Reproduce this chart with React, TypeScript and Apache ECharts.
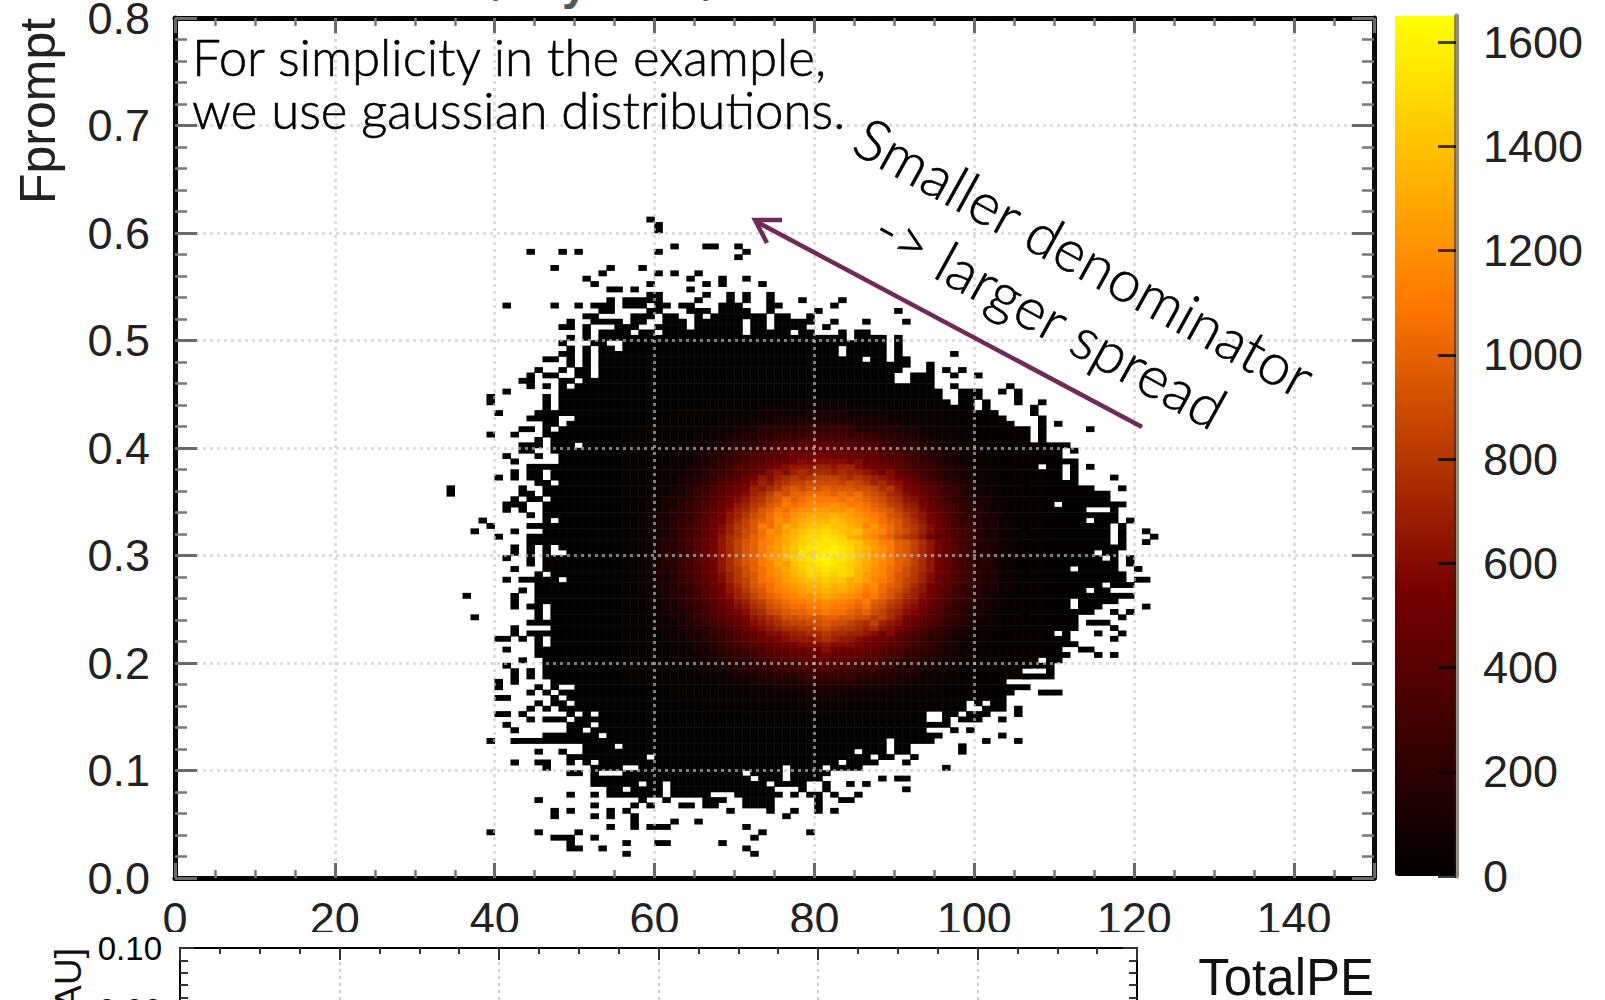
import React, { useEffect, useRef } from "react";
import * as echarts from "echarts";

// ---- axis ticks
const X_MAX = 150;
const Y_MAX = 0.8;
const Z_MAX = 1650;
const LOWER_X_MAX = 120;
const LOWER_Y_MAX = 0.1;
const COLOR_STOPS = ["#000000", "#780000", "#ff7800", "#ffff00"];
const Z_TICKS = [0, 200, 400, 600, 800, 1000, 1200, 1400, 1600];

// ---- occupied bins: index = Fprompt bin (0.005 wide), entries = TotalPE bins (1 wide)
const OCCUPIED_ROWS = [
  "", "", "", "",
  "56,72",
  "49-50,53,71",
  "49,56,60-61,68",
  "47-49,52,72",
  "39,45,50,73,79",
  "54,57,59-61,71",
  "57,62,65",
  "47,52,54,57,76",
  "47,49,54,56,69,74,77,80,82",
  "52,57,59,63-64,66-67,71-74,80",
  "45,58,61,66-68,71-74,80,83-84",
  "49,52,54-60,62-66,70-75,77,79-80,82,85",
  "54-55,57-60,62-74,78,81,91",
  "52-57,59-60,62-73,75-78,81,84,86",
  "52-71,73-75,77-80,88,90-91",
  "49-50,52,56-70,72-75,77-81",
  "46,52-55,58-75,77-80,82-85,96",
  "42,45-46,49,51,53-82,84-87,91",
  "49-58,60-86,88-89,92",
  "45,48,51-84,86-88,90-91,98",
  "51-54,56-88,90-91,98",
  "39,42-88,90-94,101,105",
  "46-52,54-95,103",
  "42,49-50,52-93,97,99",
  "41,49-51,53-96",
  "44,46-48,50-93,96,98-100,103",
  "40-41,43,49,51,53-93,96-97,99-101,105",
  "44,46,48-98,101-103,105",
  "45,47-48,50-98,100,102-103",
  "40-41,47,49-103",
  "44,46,48-104,108-110",
  "40,45,47,50-106",
  "40,42,47-103",
  "42,44,46-109",
  "42,44,46-105,109",
  "41,46-109",
  "43,46-107,109-110",
  "45-111,115,117",
  "41,45-110,113-114",
  "45,47-112",
  "40-41,43,45,47-111,117",
  "42,44-109,111,115,118",
  "42,47-112,117",
  "44-112,114-116",
  "37,45,47-112,118",
  "45,47-114,117,119",
  "42,44-45,47-111,113-115,121",
  "42,45-111,113-117",
  "36,42,45-119",
  "43,45-113,115-116",
  "45-115,117-119",
  "41,43-47,49-118,120-121",
  "45,47-118",
  "42,46-111,113-117,120",
  "44,46-117,119",
  "41,44,46-115,117,119",
  "42,44,46,49-114,116-117",
  "42,44,46,48-118",
  "44-116,118,121",
  "40,44-116,118,122",
  "37,42,46-116,118,121",
  "39,44-116,118",
  "38,46,48-113,115-117,119",
  "44,46-117",
  "41,43,46-113,117",
  "41-43,46-109,111-118",
  "42,44-45,47-116",
  "34,43-44,46-116",
  "34,43,46-114,118",
  "45-46,48-112",
  "40,42,44-45,47-110,112,117",
  "42,44-45,47-110,112",
  "44-107,109-110,112,114",
  "42,48-112",
  "41,45,48-110",
  "43-44,47-110,112",
  "43-45,47-49,51-111",
  "45,47-106,108",
  "39,42,46-106,108",
  "43-44,46,48-106,108,114",
  "46-47,49-104,108,110",
  "44-47,50-103,108",
  "40,45-102,107",
  "46,48-99,101,107",
  "39,46,48-96,98-99,101,105,108",
  "39,46,48-95,98-100,105",
  "41,48-95,98-100,103,105",
  "44,46,48,50-94,97,104",
  "43-44,48-49,51-89,92-94",
  "44,46-47,50-51,53-89,92-94,97,100",
  "45,48,50-51,53-90,94,96,98",
  "49,51,53-91,94",
  "46-47,49,51,53-85,87-88,90-91",
  "48-49,51,53-82,84-88,90,97",
  "49,51,53-54,56-82,84-88,90",
  "48,52-53,56-88,90",
  "49,51,53-83,85-88,90",
  "51,53-56,58-59,61-70,72-76,78-79,83,85-86",
  "48-49,51,55-57,60-63,65-70,72-73,75-78,81",
  "49,52-55,57-58,61-63,65-70,72-73,75-79,82,86,91",
  "51-52,57-59,61-62,65,67-73,75-76,79",
  "53-54,59-60,64-66,68-71,74,80,90",
  "41,47,50,52-54,56-58,60-61,63-64,68-70,74-75,82",
  "54,56-60,65,69,71,74,78,83",
  "59-60,66,69,71,74",
  "54-55,57,64",
  "52,59,66,68,73",
  "51,64,68,71",
  "53,60,62,65",
  "47,54,58",
  "",
  "70",
  "44,48,50,60,71",
  "62,66-67,70",
  "", "",
  "60",
  "60",
  "59",
];

// ---- counts in the bright core, as level digits (base 36), Fprompt bins 88 down to 30, TotalPE bins 56..108
const CORE_TOP_ROW = 88;
const CORE_LEFT_COL = 56;
const COUNT_UNIT = 50;
const LOW_COUNTS = [15, 30, 70, 120, 180];
const FAINT_COUNT = 15;
const CORE_ROWS = [
  "0000000000111111111111222 2221111111111100000000000000",
  "0000000111111111122222222 2222222211111111110000000000",
  "0000001111111111222222233 3332222222111111111100000000",
  "0000111111111222222333333 3333333322222211111111100000",
  "0011111111112222333333444 4444333333222211111111110000",
  "0111111111222233344444555 5555444443332222111111111000",
  "1111111112222334444555566 6665555444433222211111111100",
  "1111111112223344455666777 7777666554443322211111111110",
  "1111111122233444556777888 8888777655444332221111111111",
  "1111111222334455677889999 9999988776554433222111111111",
  "111111222334455677989aaab baaa999877655443322211111111",
  "1111112223345567889aabcbc cccbcaa988765543322211111111",
  "11111222334456879aabcddde edeecbaa98766544332221111111",
  "11111222334556789acdcefef fefeedcac9876554332221111111",
  "111122233445678abdcefgfgh hhgfgfedcba87654433222111111",
  "111122234456789acedfghhii iihihgefdca98765443222111111",
  "11112233455789abedfgijijj kjjjiihfgdba9875543322111111",
  "1111223345678abcefhjikkll lklkljihfecba876543322111111",
  "1112233445689acdfgijlklmm mmlmlkjigfdca986544332211111",
  "111223345678abdeghjkmlmnn nonmmlkjhgedba87654332211111",
  "111223445679acefhjkmlnoop poopnmlkjhfeca97654432211111",
  "112233445689bdegijlnmopqq qrqponmljigedb98654433221111",
  "11223345578abdfhjklonpqrr rsrqponlkjhfdba8755433221111",
  "11223345678aceghjmlnqprss tssrqnpmljhgeca8765433221111",
  "11223345679acegijlonprstt utsrsponljigeca9765433221111",
  "11223345679adfgiklnoqrtuu vutrqonlkigfda99765433221111",
  "11223445689bdfhjkmnpqstuv vvutsqpnmkjhfdb986544322 1111",
  "11223445689bdfhjkmoprsuvv vwvusrpomkjhfdb986544322 1111",
  "11223445689bdfhjkmoprsvuv wwvusrpomkjhfdb986544322 1111",
  "11223445689bdfhjkmoprtuvw wvvusrpomkjhfdb986544322 1111",
  "11223445689bdfhjkmnqpstuv wvutsqpnmkjhfdb986544322 1111",
  "11223345679adfgiklnoqrtuu vuutrqonlkigfda9765433221111",
  "11223345679acegijlnoprsut ututrponljigeca9765433221111",
  "11223345678aceghjlmnpqrss tssqrpnmljhgeca8765433221111",
  "11223345578abdfhjklnopqrr srrqpnolkjhfdba8755433221111",
  "112233445689bdegijlmnopqq rqqpomnljigedb98654433221111",
  "111223445679acefhjklmnoop qpoonlmkjhfeca97654432211111",
  "111223345678abdeghjklmmnn onnmlmkjhgedba87654332211111",
  "1112233445689acdfgijkllmm nmmlkljigfdca986544332211111",
  "1111223345678abcefhijkkll mllkjkihfecba876543322111111",
  "11112233455789abdefgiijjj kkjjiighfdba9875543322111111",
  "111122234456789acdefghhii jiihgfhedca98765443222111111",
  "111122233445678abcdeffggh ihggfefdcba87654433222111111",
  "11111222334556789accdeeff gffeedcac9876554332221111111",
  "11111222334456789aabcddde feddcbaa98765443322211111111",
  "1111112223345567889aabccc dcccbaa988765543322211111111",
  "111111222334455677899aaab cbaaa99877655443322211111111",
  "1111111222334455677889999 a999988776554433222111111111",
  "1111111122233444556777888 9888777655444332221111111111",
  "1111111112223344455666777 8777666554443322211111111110",
  "1111111112222334444555566 6665555444433222211111111100",
  "0111111111222233344444555 5555444443332222111111111000",
  "0011111111112222333333444 4444333333222211111111110000",
  "0000111111111222222333333 3333333322222211111111100000",
  "0000001111111111222222233 3332222222111111111100000000",
  "0000000111111111122222222 2222222211111111110000000000",
  "0000000000111111111111222 2221111111111100000000000000",
  "0000000000011111111111111 2111111111111000000000000000",
  "0000000000000001111111111 1111111111100000000000000000",
];

const parseOccupied = (text: string): number[] =>
  text === ""
    ? []
    : text.split(",").flatMap((part) => {
        const [from, to] = part.split("-").map(Number);
        const cols: number[] = [];
        for (let c = from; c <= (to ?? from); c++) cols.push(c);
        return cols;
      });

const coreCount = (col: number, row: number): number => {
  const line = CORE_ROWS[CORE_TOP_ROW - row];
  if (!line) return FAINT_COUNT;
  const ch = line.replace(/ /g, "")[col - CORE_LEFT_COL];
  if (!ch) return FAINT_COUNT;
  const level = parseInt(ch, 36);
  return level < LOW_COUNTS.length ? LOW_COUNTS[level] : level * COUNT_UNIT;
};

const heatData: number[][] = [];
OCCUPIED_ROWS.forEach((text, row) => {
  parseOccupied(text).forEach((col) => heatData.push([col, row, coreCount(col, row)]));
});

const xBins = Array.from({ length: X_MAX }, (_, i) => i);
const yBins = Array.from({ length: 160 }, (_, i) => i);

const SANS = "Liberation Sans";
const TITLE = "Lato";

// plot rectangles
const MAIN = { left: 175, top: 18, width: 1199, height: 860, outerBoundsMode: "none" };
const BAR = { left: 1395, top: 16, width: 61, height: 860, outerBoundsMode: "none" };
const LOWER = { left: 180, top: 948, width: 957, height: 310, outerBoundsMode: "none" };

const dotted = { show: true, lineStyle: { color: "rgba(200,200,200,0.62)", width: 3, type: [3, 4] } };

const mainTick = (len: number) => ({ show: true, inside: true, length: len, lineStyle: { color: "#6a6a6a", width: 3 } });
const mainMinor = (len: number, split: number) => ({ show: true, splitNumber: split, length: len, lineStyle: { color: "#777", width: 2.5 } });
const frameDash = { show: true, onZero: false, lineStyle: { color: "#000", width: 5, type: [6, 1.5] } };
const frameSolid = { show: true, onZero: false, lineStyle: { color: "#0c0c0c", width: 5 } };
const labelStyle = { color: "#222", fontFamily: SANS, fontSize: 45 };

const thin = { show: true, onZero: false, lineStyle: { color: "#000", width: 2 } };
const lowerTick = (len: number) => ({ show: true, inside: true, length: len, lineStyle: { color: "#333", width: 2 } });
const lowerMinor = (len: number, split: number) => ({ show: true, splitNumber: split, length: len, lineStyle: { color: "#333", width: 2 } });

export default function App() {
  const ref = useRef<HTMLDivElement>(null);
  useEffect(() => {
    const chart = echarts.init(ref.current!, undefined, { renderer: "svg" });
    const textEl = (text: string, x: number, y: number, font: string, extra: any = {}, rotation = 0) => ({
      type: "text",
      x,
      y,
      rotation,
      z: 50,
      silent: true,
      style: {
        text,
        font,
        fill: extra.fill ?? "#111",
        stroke: extra.stroke,
        lineWidth: extra.lineWidth,
        textAlign: extra.align ?? "left",
        align: extra.align ?? "left",
        textVerticalAlign: extra.valign ?? "middle",
        verticalAlign: extra.valign ?? "middle",
      },
    });
    const heavier = { fill: "#000", stroke: "#000", lineWidth: 0.6 };
    chart.setOption({
      animation: false,
      backgroundColor: "#fff",
      grid: [
        { ...MAIN },
        { ...MAIN },
        { ...BAR },
        { ...LOWER },
      ],
      xAxis: [
        { gridIndex: 0, type: "category", data: xBins, show: false },
        {
          gridIndex: 1, type: "value", position: "bottom", min: 0, max: X_MAX, interval: 20, z: 5,
          axisLine: frameDash, axisTick: mainTick(15), minorTick: mainMinor(8, 4), splitLine: dotted,
          axisLabel: { ...labelStyle, margin: 18, showMaxLabel: false },
        },
        {
          gridIndex: 1, type: "value", position: "top", min: 0, max: X_MAX, interval: 20, z: 5,
          axisLine: frameDash, axisTick: mainTick(15), minorTick: mainMinor(8, 4), splitLine: { show: false },
          axisLabel: { show: false },
        },
        { gridIndex: 2, type: "value", min: 0, max: 1, show: false },
        {
          gridIndex: 3, type: "value", position: "top", min: 0, max: LOWER_X_MAX, interval: 20, z: 20,
          axisLine: thin, axisTick: lowerTick(12), minorTick: lowerMinor(6, 4),
          splitLine: { show: true, lineStyle: { color: "#ccc", width: 2, type: [3, 4] } },
          axisLabel: { show: false },
        },
      ],
      yAxis: [
        { gridIndex: 0, type: "category", data: yBins, show: false },
        {
          gridIndex: 1, type: "value", position: "left", min: 0, max: Y_MAX, interval: 0.1, z: 5,
          axisLine: frameSolid, axisTick: mainTick(22), minorTick: mainMinor(12, 5), splitLine: dotted,
          axisLabel: { ...labelStyle, margin: 25, formatter: (v: number) => v.toFixed(1) },
        },
        {
          gridIndex: 1, type: "value", position: "right", min: 0, max: Y_MAX, interval: 0.1, z: 5,
          axisLine: frameSolid, axisTick: mainTick(22), minorTick: mainMinor(12, 5), splitLine: { show: false },
          axisLabel: { show: false },
        },
        {
          gridIndex: 2, type: "value", position: "right", min: 0, max: Z_MAX, interval: 200, z: 6,
          axisLine: { show: true, onZero: false, lineStyle: { color: "rgba(40,30,0,0.5)", width: 5 } },
          axisTick: { show: true, inside: true, length: 18, customValues: Z_TICKS, lineStyle: { color: "rgba(0,0,0,0.75)", width: 3 } },
          splitLine: { show: false },
          axisLabel: { ...labelStyle, margin: 27, customValues: Z_TICKS, formatter: (v: number) => String(v) },
        },
        {
          gridIndex: 3, type: "value", position: "left", min: 0, max: LOWER_Y_MAX, interval: 0.02, z: 20,
          axisLine: thin, axisTick: lowerTick(14), minorTick: lowerMinor(8, 5),
          splitLine: { show: true, lineStyle: { color: "#ccc", width: 2, type: [3, 4] } },
          axisLabel: { color: "#000", fontFamily: SANS, fontSize: 33, margin: 18, formatter: (v: number) => v.toFixed(2) },
        },
        {
          gridIndex: 3, type: "value", position: "right", min: 0, max: LOWER_Y_MAX, interval: 0.02, z: 20,
          axisLine: thin, axisTick: lowerTick(14), minorTick: lowerMinor(8, 5), splitLine: { show: false },
          axisLabel: { show: false },
        },
      ],
      visualMap: {
        type: "continuous",
        seriesIndex: 0,
        dimension: 2,
        min: 0,
        max: Z_MAX,
        show: true,
        calculable: false,
        realtime: false,
        left: BAR.left,
        top: BAR.top,
        padding: 0,
        itemWidth: BAR.width,
        itemHeight: BAR.height,
        text: ["", ""],
        hoverLink: false,
        inRange: { color: COLOR_STOPS },
      },
      series: [
        {
          type: "heatmap",
          xAxisIndex: 0,
          yAxisIndex: 0,
          data: heatData,
          progressive: 0,
          silent: true,
          z: 2,
          itemStyle: { borderWidth: 0 },
          emphasis: { disabled: true },
        },
      ],
      graphic: [
        { type: "rect", z: 10, silent: true, shape: { x: 0, y: 932, width: 1605, height: 100 }, style: { fill: "#fff" } },
        textEl("Fprompt", 38, 111, `50px "${SANS}"`, { fill: "#222", align: "center" }, Math.PI / 2),
        textEl("TotalPE", 1374, 977, `51px "${SANS}"`, { fill: "#111", align: "right" }),
        textEl("[AU]", 68, 948, `37px "${SANS}"`, { fill: "#111", align: "right" }, Math.PI / 2),
        textEl("For simplicity in the example,", 192, 56, `300 51px "${TITLE}"`, heavier),
        textEl("we use gaussian distributions.", 192, 109, `300 51px "${TITLE}"`, heavier),
        textEl("Smaller denominator", 1085, 256, `300 58px "${TITLE}"`, { ...heavier, align: "center" }, -0.505),
        textEl("-> larger spread", 1051, 317, `300 58px "${TITLE}"`, { ...heavier, align: "center" }, -0.505),
        textEl(",", 490, 1, `bold 46px "${SANS}"`, { fill: "#555", valign: "bottom" }),
        textEl("y", 562, 6, `bold 46px "${SANS}"`, { fill: "#555", valign: "bottom" }),
        textEl(",", 700, 1, `bold 46px "${SANS}"`, { fill: "#555", valign: "bottom" }),
        {
          type: "line", z: 50, silent: true,
          shape: { x1: 1142, y1: 427, x2: 757, y2: 222 },
          style: { stroke: "#6f2b57", lineWidth: 4.5 },
        },
        {
          type: "polyline", z: 50, silent: true,
          shape: { points: [[782, 220], [755, 220], [767, 243]] },
          style: { stroke: "#6f2b57", lineWidth: 4.5, fill: "none" },
        },
      ],
    });
    return () => chart.dispose();
  }, []);
  return (
    <div style={{ position: "fixed", left: 0, top: 0, width: 1605, height: 1000, overflow: "hidden", background: "#fff" }}>
      <div ref={ref} style={{ width: 1605, height: 1300 }} />
    </div>
  );
}
